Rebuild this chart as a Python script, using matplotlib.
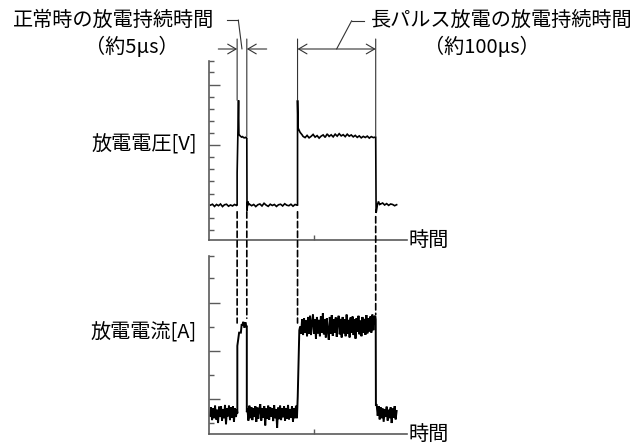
import numpy as np
import matplotlib
matplotlib.use('Agg')
import matplotlib.pyplot as plt
from matplotlib import transforms
from matplotlib.patches import ConnectionPatch
from matplotlib.lines import Line2D

plt.rcParams['font.family'] = ['Noto Sans CJK JP', 'DejaVu Sans']

W, H = 644, 446

# ---------------- data (time in arbitrary units, axis 0..100) ----------------
t_edges = [14.1, 19.0, 44.7, 84.3]          # rise1, fall1, rise2, fall2
time_tick = [53.0]

# voltage trace (units: ticks of the voltage axis, 0 = base line)
v_base1 = [0.05, 0.12, -0.06, 0.1, 0.0, 0.14, -0.07, 0.08, 0.12, -0.04, 0.06, -0.02, 0.1, 0.02]
v_rise1 = [(14.1, 0.05), (14.1, 2.7), (14.8, 8.7), (15.0, 5.9)]
v_plat1 = [5.8, 5.72, 5.66, 5.7, 5.62, 5.6, 5.64, 5.58]
v_fall1 = [(19.0, 5.6), (19.1, -0.4), (19.5, 0.35), (20.0, 0.1)]
v_base2 = [0.12, 0.0, 0.1, -0.07, 0.08, 0.14, -0.02, 0.2, 0.05, -0.05, 0.12, 0.02,
           0.1, -0.06, 0.08, 0.12, -0.02, 0.16, 0.04, 0.0, 0.12, -0.04, 0.1, 0.04]
v_rise2 = [(44.7, 0.05), (44.7, 8.7), (45.0, 6.4), (46.0, 6.05), (47.0, 5.85)]
v_plat2 = [5.72, 5.62, 5.8, 5.6, 5.72, 5.88, 5.66, 5.78, 5.58, 5.74, 5.84, 5.64, 5.92,
           5.72, 5.85, 5.68, 5.9, 5.74, 5.94, 5.76, 5.86, 5.7, 5.9, 5.74, 5.84, 5.68,
           5.8, 5.64, 5.76, 5.6, 5.72, 5.63, 5.74, 5.58, 5.7, 5.62, 5.66]
v_fall2 = [(84.3, 5.65), (84.5, -0.6), (85.2, 0.1), (85.7, 0.35), (86.3, 0.1)]
v_tail = [0.14, 0.22, 0.06, 0.17, 0.03, 0.14, 0.1, 0.0, 0.08]
v_spans = [(0.6, 13.8), (15.4, 18.8), (20.4, 44.5), (47.5, 84.1), (86.8, 94.9)]

# current trace (units: ticks of the current axis)
c_base1 = [0.3, 0.65, 0.12, 0.6, 0.2, 0.72, 0.15, 0.55, 0.0, 0.68, 0.25, 0.7, 0.1, 0.58,
           0.2, 0.75, -0.05, 0.6, 0.28, 0.72, 0.12, 0.66, 0.22, 0.7, 0.05, 0.62, 0.25, 0.55]
c_rise1 = [(14.2, 0.4), (14.2, 3.2), (15.1, 3.75), (16.0, 3.75), (16.4, 4.1)]
c_plat1 = [4.05, 4.2, 3.95, 4.18, 4.0]
c_fall1 = [(19.0, 4.0), (19.0, 0.45)]
c_base2 = [0.6, 0.1, 0.72, 0.2, 0.66, 0.12, 0.62, 0.25, 0.7, 0.05, 0.64, 0.18, 0.58, 0.78,
           0.1, 0.62, 0.22, 0.7, -0.1, 0.6, 0.18, 0.72, 0.14, 0.66, 0.26, 0.62, 0.08, 0.74,
           0.2, 0.58, -0.2, 0.64, 0.16, 0.72, 0.12, 0.6, 0.24, 0.7, 0.1, 0.62, 0.18, 0.75,
           0.15, 0.58, 0.22, 0.7, 0.06, 0.62, 0.2, 0.72, 0.2]
c_rise2 = [(44.6, 0.6), (44.8, 1.1), (45.6, 3.85)]
c_plat2 = [4.0, 3.7, 4.3, 3.65, 4.35, 3.75, 4.25, 3.6, 4.4, 3.7, 4.45, 3.65, 4.2, 4.5,
           3.7, 4.3, 3.5, 4.4, 3.72, 4.28, 3.6, 4.42, 3.75, 4.55, 3.68, 4.3, 3.55, 4.35,
           3.8, 3.45, 4.4, 3.7, 4.48, 3.62, 4.3, 3.75, 4.38, 3.58, 4.25, 4.45, 3.68, 4.32,
           3.55, 4.4, 3.72, 4.3, 3.6, 4.5, 3.7, 4.28, 3.55, 4.38, 3.75, 4.42, 3.65, 4.3,
           3.5, 4.35, 3.78, 4.45, 3.68, 4.25, 3.6, 4.4, 3.75, 4.32, 3.66, 4.48, 3.72, 4.35,
           3.8, 4.42, 3.75, 4.5, 3.85, 4.4, 4.45]
c_fall2 = [(84.3, 4.3), (84.4, 0.75)]
c_tail = [0.75, 0.3, 0.7, 0.15, 0.65, 0.2, 0.6, 0.05, 0.58, 0.25, 0.68, 0.1, 0.55, 0.2,
          0.65, 0.0, 0.6, 0.22, 0.7, 0.15, 0.5]
c_spans = [(0.4, 14.0), (16.7, 18.8), (19.3, 44.4), (46.0, 84.1), (84.8, 94.9)]

# dashed connectors (voltage value at top end, current value at bottom end)
dash_top_v = [-0.5, -0.5, -0.5, -0.9]
dash_bot_c = [4.15, 4.35, 4.15, 4.5]
# annotation verticals end on the trace
ann_bot_v = [8.7, 5.7, 8.7, 5.7]

labels_top = ['正常時の放電持続時間', '（約5μs）', '長パルス放電の放電持続時間', '（約100μs）']
label_v = '放電電圧[V]'
label_c = '放電電流[A]'
label_t = '時間'


def build(segs, spans, keys):
    ts, vs = [], []
    for i, (vals, (a, b)) in enumerate(zip(segs, spans)):
        tt = np.linspace(a, b, len(vals))
        ts.extend(tt); vs.extend(vals)
        if i < len(keys):
            for (kt, kv) in keys[i]:
                ts.append(kt); vs.append(kv)
    return np.array(ts), np.array(vs)


vt, vv = build([v_base1, v_plat1, v_base2, v_plat2, v_tail], v_spans,
               [v_rise1, v_fall1, v_rise2, v_fall2])
ct, cv = build([c_base1, c_plat1, c_base2, c_plat2, c_tail], c_spans,
               [c_rise1, c_fall1, c_rise2, c_fall2])

# ---------------- layout helpers ----------------
def fx(x):
    return x / W


def fy(y):
    return 1 - y / H


fig = plt.figure(figsize=(W / 100, H / 100), dpi=100)
fig.patch.set_facecolor('white')

axL, axR = 209.3, 406.7
ax1 = fig.add_axes([fx(axL), fy(240), fx(axR - axL), (240 - 61) / H])
ax2 = fig.add_axes([fx(axL), fy(434), fx(axR - axL), (434 - 256) / H])

grey = '#5a5a5a'
for ax, (yl, majors, minors) in zip(
        (ax1, ax2),
        (((-2.83, 11.94), [5, 10], [-2, -1, 1, 2, 3, 4, 6, 7, 8, 9, 11, 11.94]),
         ((-0.456, 6.93), [1, 3, 5], [0, 2, 4, 6, 6.93]))):
    ax.set_xlim(0, 100)
    ax.set_ylim(*yl)
    ax.patch.set_alpha(0)
    for s in ('top', 'right'):
        ax.spines[s].set_visible(False)
    for s in ('left', 'bottom'):
        ax.spines[s].set_color(grey)
        ax.spines[s].set_linewidth(1.2)
    ax.set_yticks(majors)
    ax.set_yticks(minors, minor=True)
    ax.set_xticks(time_tick)
    ax.tick_params(axis='y', which='major', direction='in', length=8.2, width=1.0,
                   color=grey, labelleft=False)
    ax.tick_params(axis='y', which='minor', direction='in', length=3.4, width=1.0,
                   color=grey, labelleft=False)
    ax.tick_params(axis='x', which='major', direction='in', length=3.4, width=1.0,
                   color=grey, labelbottom=False)

ax1.plot(vt, vv, color='black', lw=1.2, solid_joinstyle='miter')
ax2.plot(ct, cv, color='black', lw=1.4, solid_joinstyle='miter')

blend = transforms.blended_transform_factory(ax1.transData, fig.transFigure)
ann_col = '#333333'

# dashed connectors between the two plots
for t, a, b in zip(t_edges, dash_top_v, dash_bot_c):
    cp = ConnectionPatch(xyA=(t, a), coordsA=ax1.transData, xyB=(t, b), coordsB=ax2.transData,
                         color='black', lw=1.2, linestyle=(0, (3.8, 2.0)))
    fig.add_artist(cp)

# annotation verticals
for t, b in zip(t_edges, ann_bot_v):
    cp = ConnectionPatch(xyA=(t, fy(39)), coordsA=blend, xyB=(t, b), coordsB=ax1.transData,
                         color=ann_col, lw=0.8)
    fig.add_artist(cp)

arrow_y = fy(49)
aprops = dict(arrowstyle='->,head_length=0.6,head_width=0.35', color=ann_col, lw=0.8,
              shrinkA=0, shrinkB=0, mutation_scale=10)
# short pulse: arrows pointing inward
fig.add_artist(ConnectionPatch(xyA=(fx(218.3), arrow_y), coordsA='figure fraction',
                               xyB=(t_edges[0], arrow_y), coordsB=blend, **aprops))
fig.add_artist(ConnectionPatch(xyA=(fx(266.7), arrow_y), coordsA='figure fraction',
                               xyB=(t_edges[1], arrow_y), coordsB=blend, **aprops))
# long pulse: double arrow
aprops2 = dict(aprops)
aprops2['arrowstyle'] = '<->,head_length=0.6,head_width=0.35'
fig.add_artist(ConnectionPatch(xyA=(t_edges[2], arrow_y), coordsA=blend,
                               xyB=(t_edges[3], arrow_y), coordsB=blend, **aprops2))

# leader lines
fig.add_artist(Line2D([fx(226.7), fx(238.3)], [fy(20), fy(20)], color=ann_col, lw=0.8))
fig.add_artist(ConnectionPatch(xyA=(fx(238.3), fy(20)), coordsA='figure fraction',
                               xyB=((t_edges[0] + t_edges[1]) / 2, arrow_y), coordsB=blend,
                               color=ann_col, lw=0.8))
fig.add_artist(Line2D([fx(351.7), fx(364)], [fy(20.7), fy(20.7)], color=ann_col, lw=0.8))
fig.add_artist(ConnectionPatch(xyA=(fx(351.7), fy(20.7)), coordsA='figure fraction',
                               xyB=((t_edges[2] + t_edges[3]) / 2, arrow_y), coordsB=blend,
                               color=ann_col, lw=0.8))

fs = 14.5
fig.text(fx(13), fy(20), labels_top[0], fontsize=fs, ha='left', va='center')
fig.text(fx(132), fy(47), labels_top[1], fontsize=fs, ha='center', va='center')
fig.text(fx(371), fy(20), labels_top[2], fontsize=fs, ha='left', va='center')
fig.text(fx(482), fy(47), labels_top[3], fontsize=fs, ha='center', va='center')
fig.text(fx(197), fy(145), label_v, fontsize=fs, ha='right', va='center')
fig.text(fx(197), fy(333), label_c, fontsize=fs, ha='right', va='center')
fig.text(fx(408), fy(240), label_t, fontsize=fs, ha='left', va='center')
fig.text(fx(408), fy(434), label_t, fontsize=fs, ha='left', va='center')

fig.savefig('out.png', dpi=100, facecolor='white')
